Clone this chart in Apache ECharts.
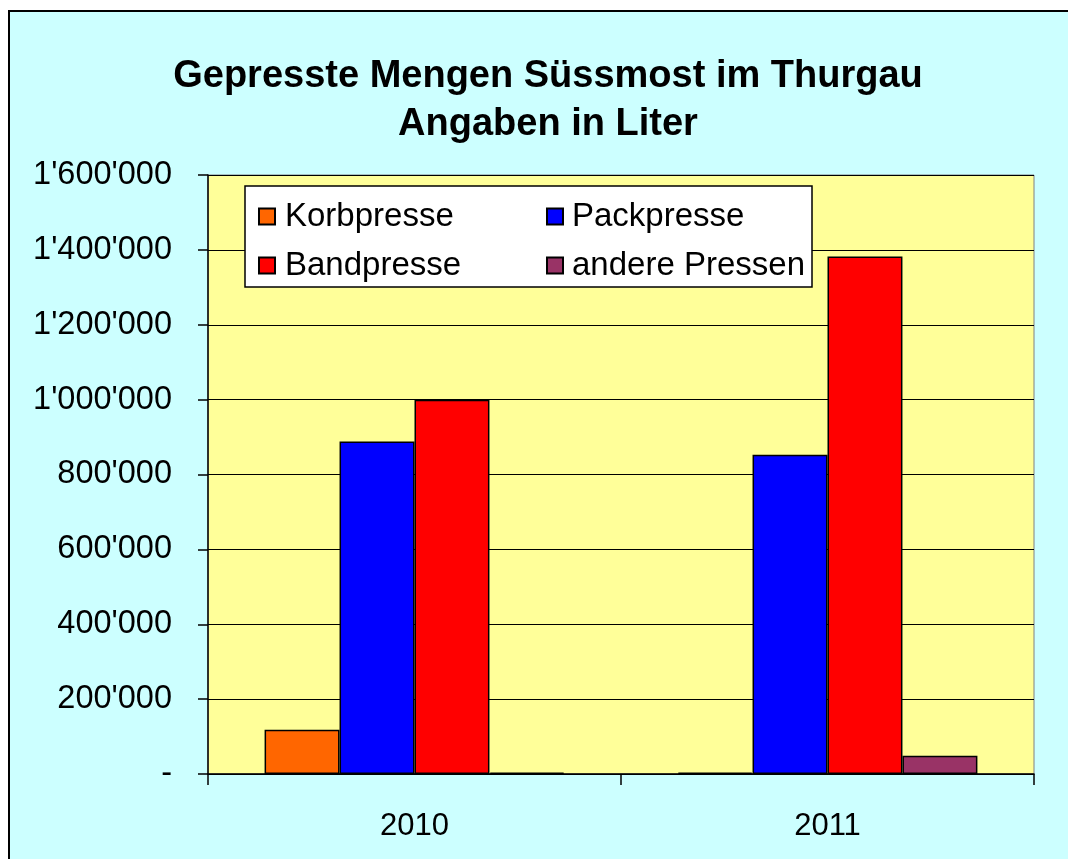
<!DOCTYPE html>
<html>
<head>
<meta charset="utf-8">
<script src="https://cdn.jsdelivr.net/npm/echarts@6/dist/echarts.min.js"></script>
<style>
html,body{margin:0;padding:0;background:#fff;width:1068px;height:859px;overflow:hidden;}
#bg{position:absolute;left:8px;top:10px;width:1100px;height:900px;background:#CCFFFF;border-left:2px solid #000;border-top:2px solid #000;}
#chart{position:absolute;left:0;top:0;width:1068px;height:859px;}
</style>
</head>
<body>
<div id="bg"></div>
<div id="chart"></div>
<script>
const titleLines = ['Gepresste Mengen Süssmost im Thurgau', 'Angaben in Liter'];
const categories = ['2010', '2011'];
const seriesNames = ['Korbpresse', 'Packpresse', 'Bandpresse', 'andere Pressen'];
const korbpresse = [118000, 4000];
const packpresse = [888000, 853000];
const bandpresse = [1000000, 1382000];
const anderePressen = [4000, 49000];
const seriesColors = ['#FF6600', '#0000FF', '#FF0000', '#993366'];
const yTicks = { min: 0, max: 1600000, interval: 200000 };

const FONT = '"Liberation Sans", Arial, sans-serif';
const seriesData = [korbpresse, packpresse, bandpresse, anderePressen];

function fmt(v) {
  if (v === 0) return '-';
  return String(v).replace(/\B(?=(\d{3})+(?!\d))/g, "'");
}

const chart = echarts.init(document.getElementById('chart'), null, { renderer: 'canvas' });
chart.setOption({
  backgroundColor: 'transparent',
  animation: false,
  title: {
    text: titleLines.join('\n'),
    left: 543, top: 48, textAlign: 'center',
    textStyle: { fontFamily: FONT, fontWeight: 'bold', fontSize: 38, lineHeight: 48, color: '#000' }
  },
  graphic: [{
    type: 'rect', z: 3,
    shape: { x: 245, y: 186, width: 567, height: 101 },
    style: { fill: '#FFFFFF', stroke: '#000', lineWidth: 1.5 }
  }],
  legend: [
    {
      data: [seriesNames[0], seriesNames[2]], orient: 'vertical', left: 253, top: 195, z: 5,
      itemWidth: 16, itemHeight: 16, itemGap: 16, icon: 'rect',
      textStyle: { fontFamily: FONT, fontSize: 33, lineHeight: 33, color: '#000', padding: [0, 0, 0, 5] }
    },
    {
      data: [seriesNames[1], seriesNames[3]], orient: 'vertical', left: 541, top: 195, z: 5,
      itemWidth: 16, itemHeight: 16, itemGap: 16, icon: 'rect',
      textStyle: { fontFamily: FONT, fontSize: 33, lineHeight: 33, color: '#000', padding: [0, 0, 0, 4] }
    }
  ],
  grid: {
    left: 208, right: 34, top: 175, bottom: 85,
    show: true, backgroundColor: '#FFFF99', borderColor: '#808080', borderWidth: 1
  },
  xAxis: {
    type: 'category', data: categories,
    axisLine: { lineStyle: { color: '#000', width: 1.5 } },
    axisTick: { show: true, length: 11, lineStyle: { color: '#000', width: 1.5 } },
    axisLabel: { fontFamily: FONT, fontSize: 31, color: '#000', margin: 37 }
  },
  yAxis: {
    type: 'value', min: yTicks.min, max: yTicks.max, interval: yTicks.interval,
    axisLine: { show: true, lineStyle: { color: '#000', width: 1.5 } },
    axisTick: { show: true, length: 10, lineStyle: { color: '#000', width: 1.5 } },
    splitLine: { show: true, lineStyle: { color: '#000', width: 1.2 } },
    axisLabel: { fontFamily: FONT, fontSize: 32.5, color: '#000', margin: 36, formatter: fmt }
  },
  series: seriesNames.map((n, i) => ({
    name: n, type: 'bar', data: seriesData[i],
    barGap: '0%', barCategoryGap: '27.4%',
    itemStyle: { color: seriesColors[i], borderColor: '#000', borderWidth: 1.5 }
  }))
});
</script>
</body>
</html>
